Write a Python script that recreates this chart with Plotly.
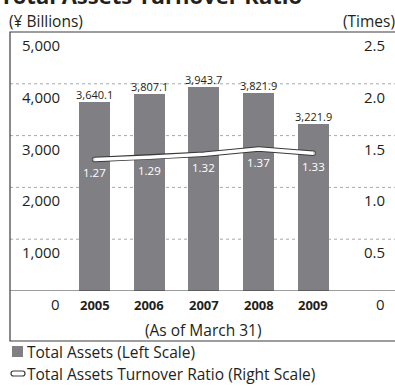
import plotly.graph_objects as go

# Fiscal years (as of March 31)
years = ["2005", "2006", "2007", "2008", "2009"]
# Total assets, billions of yen (left scale)
total_assets = [3640.1, 3807.1, 3943.7, 3821.9, 3221.9]
# Total assets turnover ratio, times (right scale)
turnover_ratio = [1.27, 1.29, 1.32, 1.37, 1.33]

left_ticks = [0, 1000, 2000, 3000, 4000, 5000]
left_tick_text = ["0", "1,000", "2,000", "3,000", "4,000", "5,000"]
right_ticks = [0, 0.5, 1.0, 1.5, 2.0, 2.5]
right_tick_text = ["0", "0.5", "1.0", "1.5", "2.0", "2.5"]

FONT = "Open Sans"
TEXT = "#231f20"
BAR = "#808084"
GRID = "#a8a8a8"
FRAME = "#3c3c3c"

W, H = 395, 387
ML, MR, MT, MB = 10, 0, 32, 96
plot_h = H - MT - MB

xs = list(range(len(years)))

fig = go.Figure()

fig.add_trace(go.Bar(
    x=xs, y=total_assets, width=0.567, marker=dict(color=BAR, line=dict(width=0)),
    hoverinfo="skip", showlegend=False,
))

# ratio line: dark outline underneath, white core on top
fig.add_trace(go.Scatter(
    x=xs, y=turnover_ratio, yaxis="y2", mode="lines+markers",
    line=dict(color="#3a3a3a", width=5.5),
    marker=dict(size=[5.5, 0, 0, 0, 5.5], color="#3a3a3a", line=dict(width=0)),
    hoverinfo="skip", showlegend=False,
))
fig.add_trace(go.Scatter(
    x=xs, y=turnover_ratio, yaxis="y2", mode="lines+markers",
    line=dict(color="white", width=3.5),
    marker=dict(size=[3.5, 0, 0, 0, 3.5], color="white", line=dict(width=0)),
    hoverinfo="skip", showlegend=False,
))

ann = []
shapes = []

# dashed gridlines
for v in left_ticks[1:-1]:
    shapes.append(dict(type="line", xref="paper", yref="y", x0=0, x1=1, y0=v, y1=v,
                       line=dict(color=GRID, width=1, dash="3px,3px"), layer="below"))
# zero baseline
shapes.append(dict(type="line", xref="paper", yref="y", x0=0, x1=1, y0=0, y1=0,
                   line=dict(color=FRAME, width=1.2)))
# outer frame, extending below the baseline around the year row
frame_bottom = -(341 - (H - MB)) / plot_h
shapes.append(dict(type="rect", xref="paper", yref="paper", x0=0, x1=1.01,
                   y0=frame_bottom, y1=1, line=dict(color=FRAME, width=1.2)))

# left and right scale labels sit just below each gridline
for v, t in zip(left_ticks, left_tick_text):
    ann.append(dict(x=(62 - ML) / (W - ML - MR), xref="paper", y=v, yref="y",
                    text=t, showarrow=False, xanchor="right", yanchor="middle",
                    yshift=-13, font=dict(family=FONT, size=15, color=TEXT)))
for v, t in zip(right_ticks, right_tick_text):
    ann.append(dict(x=(387 - ML) / (W - ML - MR), xref="paper", y=v, yref="y2",
                    text=t, showarrow=False, xanchor="right", yanchor="middle",
                    yshift=-13, font=dict(family=FONT, size=15, color=TEXT)))

# year labels
for x, yr in zip(xs, years):
    ann.append(dict(x=x, xref="x", y=0, yref="y", text="<b>" + yr + "</b>",
                    showarrow=False, yanchor="middle", yshift=-14,
                    font=dict(family=FONT, size=13, color=TEXT)))

# bar value labels
for x, v in zip(xs, total_assets):
    ann.append(dict(x=x, xref="x", y=v, yref="y", text=f"{v:,.1f}",
                    showarrow=False, yanchor="bottom", yshift=-2,
                    font=dict(family=FONT, size=11, color=TEXT)))

# ratio labels in white, below the line
for x, r in zip(xs, turnover_ratio):
    ann.append(dict(x=x, xref="x", y=r, yref="y2", text=f"{r:.2f}",
                    showarrow=False, yanchor="middle", yshift=-13,
                    font=dict(family=FONT, size=11.5, color="white")))


def py(pix):
    """Paper y from a pixel row measured from the top of the page."""
    return (H - MB - pix) / plot_h


def px(pix):
    return (pix - ML) / (W - ML - MR)


ann.append(dict(x=px(203.5), xref="paper", y=py(330), yref="paper",
                text="(As of March 31)", showarrow=False, yanchor="middle",
                font=dict(family=FONT, size=15.5, color=TEXT)))

# title and unit captions
ann.append(dict(x=px(-2), xref="paper", y=py(-5), yref="paper", xanchor="left",
                text="<b>Total Assets Turnover Ratio</b>", showarrow=False,
                yanchor="middle", font=dict(family=FONT, size=22, color=TEXT)))
ann.append(dict(x=px(7), xref="paper", y=py(21), yref="paper", xanchor="left",
                text="(¥ Billions)", showarrow=False, yanchor="middle",
                font=dict(family=FONT, size=15.5, color=TEXT)))
ann.append(dict(x=px(397), xref="paper", y=py(21), yref="paper", xanchor="right",
                text="(Times)", showarrow=False, yanchor="middle",
                font=dict(family=FONT, size=15.5, color=TEXT)))

# legend
shapes.append(dict(type="rect", xref="paper", yref="paper",
                   x0=px(12), x1=px(23), y0=py(357), y1=py(346),
                   fillcolor=BAR, line=dict(width=0)))
shapes.append(dict(type="path", xref="paper", yref="paper",
                   path=f"M {px(13.5)},{py(371)} L {px(22.5)},{py(371)} "
                        f"Q {px(25)},{py(371)} {px(25)},{py(373.5)} "
                        f"Q {px(25)},{py(376)} {px(22.5)},{py(376)} "
                        f"L {px(13.5)},{py(376)} "
                        f"Q {px(11)},{py(376)} {px(11)},{py(373.5)} "
                        f"Q {px(11)},{py(371)} {px(13.5)},{py(371)} Z",
                   fillcolor="white", line=dict(color="#3a3a3a", width=1.2)))
ann.append(dict(x=px(25), xref="paper", y=py(351.5), yref="paper", xanchor="left",
                text="Total Assets (Left Scale)", showarrow=False, yanchor="middle",
                font=dict(family=FONT, size=15.5, color=TEXT)))
ann.append(dict(x=px(25), xref="paper", y=py(373.5), yref="paper", xanchor="left",
                text="Total Assets Turnover Ratio (Right Scale)", showarrow=False,
                yanchor="middle", font=dict(family=FONT, size=15.5, color=TEXT)))

x_lo = -(94.5 - ML) / 54.7
x_hi = (W - MR - 94.5) / 54.7

fig.update_layout(
    width=W, height=H,
    margin=dict(l=ML, r=MR, t=MT, b=MB, pad=0),
    paper_bgcolor="white", plot_bgcolor="white",
    xaxis=dict(range=[x_lo, x_hi], showgrid=False, zeroline=False,
               showticklabels=False, ticks="", fixedrange=True),
    yaxis=dict(range=[0, 5000], showgrid=False, zeroline=False,
               showticklabels=False, ticks="", fixedrange=True),
    yaxis2=dict(range=[0, 2.5], overlaying="y", side="right", showgrid=False,
                zeroline=False, showticklabels=False, ticks="", fixedrange=True),
    annotations=ann, shapes=shapes, showlegend=False, bargap=0,
)

fig.write_html("out.html", config={"displayModeBar": False})
